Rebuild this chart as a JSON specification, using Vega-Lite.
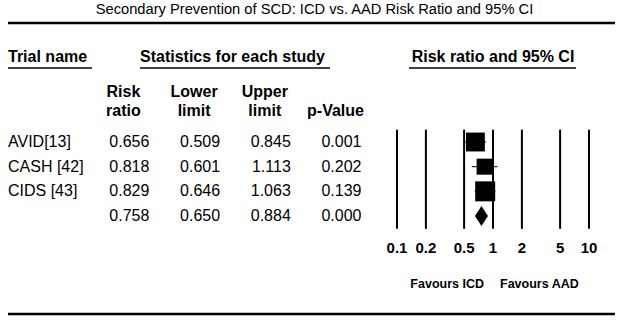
{
  "$schema": "https://vega.github.io/schema/vega-lite/v6.json",
  "width": 607,
  "height": 291,
  "autosize": {"type": "none"},
  "padding": {"left": 8, "top": 23, "right": 12, "bottom": 9},
  "title": {
    "text": "Secondary Prevention of SCD: ICD vs. AAD Risk Ratio and 95% CI",
    "font": "Liberation Sans",
    "fontSize": 14.7,
    "fontWeight": "normal",
    "color": "black",
    "anchor": "middle",
    "baseline": "alphabetic",
    "offset": -7,
    "dx": 3
  },
  "config": {
    "view": {"stroke": null},
    "text": {"font": "Liberation Sans", "color": "black"}
  },
  "datasets": {
    "studies": [
      {"trial": "AVID[13]", "kind": "study", "rr": 0.656, "lower": 0.509, "upper": 0.845, "p": 0.001, "weight": 35},
      {"trial": "CASH [42]", "kind": "study", "rr": 0.818, "lower": 0.601, "upper": 1.113, "p": 0.202, "weight": 25.2},
      {"trial": "CIDS [43]", "kind": "study", "rr": 0.829, "lower": 0.646, "upper": 1.063, "p": 0.139, "weight": 39.3},
      {"trial": "", "kind": "overall", "rr": 0.758, "lower": 0.65, "upper": 0.884, "p": 0.0, "weight": 100}
    ],
    "columns": [
      {"col": "rr", "label": "Risk\nratio"},
      {"col": "lower", "label": "Lower\nlimit"},
      {"col": "upper", "label": "Upper\nlimit"},
      {"col": "p", "label": "\np-Value"}
    ],
    "ticks": [
      {"v": 0.1}, {"v": 0.2}, {"v": 0.5}, {"v": 1}, {"v": 2}, {"v": 5}, {"v": 10}
    ]
  },
  "resolve": {"scale": {"x": "independent"}},
  "layer": [
    {
      "data": {"values": [{}]},
      "mark": {"type": "rule", "strokeWidth": 2.5, "color": "black"},
      "encoding": {"y": {"value": 0}}
    },
    {
      "data": {"values": [{}]},
      "mark": {"type": "rule", "strokeWidth": 2.5, "color": "black"},
      "encoding": {"y": {"value": "height"}}
    },
    {
      "data": {"name": "studies"},
      "transform": [{"window": [{"op": "row_number", "as": "row"}]}],
      "mark": {"type": "text", "align": "left", "baseline": "middle", "fontSize": 16},
      "encoding": {
        "x": {"datum": "name", "type": "nominal", "scale": {"type": "point", "domain": ["name", "gap", "rr", "lower", "upper", "p"], "range": [0, 353.5], "padding": 0}, "axis": null},
        "y": {"field": "row", "type": "quantitative", "scale": {"domain": [-3.824, 7.972], "reverse": true, "nice": false, "zero": false}, "axis": null},
        "text": {"field": "trial", "type": "nominal"}
      }
    },
    {
      "data": {"name": "studies"},
      "transform": [
        {"window": [{"op": "row_number", "as": "row"}]},
        {"fold": ["rr", "lower", "upper", "p"], "as": ["col", "val"]}
      ],
      "mark": {"type": "text", "align": "right", "baseline": "middle", "fontSize": 16},
      "encoding": {
        "x": {"field": "col", "type": "nominal", "scale": {"type": "point", "domain": ["name", "gap", "rr", "lower", "upper", "p"], "range": [0, 353.5], "padding": 0}, "axis": null},
        "y": {"field": "row", "type": "quantitative", "scale": {"domain": [-3.824, 7.972], "reverse": true, "nice": false, "zero": false}, "axis": null},
        "text": {"field": "val", "type": "quantitative", "format": ".3f"}
      }
    },
    {
      "data": {"name": "columns"},
      "mark": {"type": "text", "align": "center", "baseline": "bottom", "fontSize": 16, "fontWeight": "bold", "lineBreak": "\n", "lineHeight": 19, "dx": -26},
      "encoding": {
        "x": {"field": "col", "type": "nominal", "scale": {"type": "point", "domain": ["name", "gap", "rr", "lower", "upper", "p"], "range": [0, 353.5], "padding": 0}, "axis": null},
        "y": {"datum": -0.7, "type": "quantitative", "scale": {"domain": [-3.824, 7.972], "reverse": true, "nice": false, "zero": false}, "axis": null},
        "text": {"field": "label", "type": "nominal"}
      }
    },
    {
      "data": {"values": [{}]},
      "mark": {"type": "text", "align": "left", "baseline": "middle", "fontSize": 16, "fontWeight": "bold"},
      "encoding": {
        "x": {"datum": "name", "type": "nominal", "scale": {"type": "point", "domain": ["name", "gap", "rr", "lower", "upper", "p"], "range": [0, 353.5], "padding": 0}, "axis": null},
        "y": {"datum": -2.446, "type": "quantitative", "scale": {"domain": [-3.824, 7.972], "reverse": true, "nice": false, "zero": false}, "axis": null},
        "text": {"value": "Trial name"}
      }
    },
    {
      "data": {"values": [{}]},
      "mark": {"type": "text", "align": "left", "baseline": "middle", "fontSize": 16, "fontWeight": "bold", "dx": -9.4},
      "encoding": {
        "x": {"datum": "rr", "type": "nominal", "scale": {"type": "point", "domain": ["name", "gap", "rr", "lower", "upper", "p"], "range": [0, 353.5], "padding": 0}, "axis": null},
        "y": {"datum": -2.446, "type": "quantitative", "scale": {"domain": [-3.824, 7.972], "reverse": true, "nice": false, "zero": false}, "axis": null},
        "text": {"value": "Statistics for each study"}
      }
    },
    {
      "data": {"values": [{}]},
      "mark": {"type": "text", "align": "center", "baseline": "middle", "fontSize": 16, "fontWeight": "bold"},
      "encoding": {
        "x": {"datum": 1, "type": "quantitative", "scale": {"type": "log", "domain": [0.1, 10], "range": [389, 581]}, "axis": null},
        "y": {"datum": -2.446, "type": "quantitative", "scale": {"domain": [-3.824, 7.972], "reverse": true, "nice": false, "zero": false}, "axis": null},
        "text": {"value": "Risk ratio and 95% CI"}
      }
    },
    {
      "data": {"values": [{}]},
      "mark": {"type": "rule", "strokeWidth": 1.5, "color": "black", "x2Offset": 13.3},
      "encoding": {
        "x": {"datum": "name", "type": "nominal", "scale": {"type": "point", "domain": ["name", "gap", "rr", "lower", "upper", "p"], "range": [0, 353.5], "padding": 0}, "axis": null},
        "x2": {"datum": "gap"},
        "y": {"datum": -2.0, "type": "quantitative", "scale": {"domain": [-3.824, 7.972], "reverse": true, "nice": false, "zero": false}, "axis": null}
      }
    },
    {
      "data": {"values": [{}]},
      "mark": {"type": "rule", "strokeWidth": 1.5, "color": "black", "xOffset": -9.4, "x2Offset": -31.5},
      "encoding": {
        "x": {"datum": "rr", "type": "nominal", "scale": {"type": "point", "domain": ["name", "gap", "rr", "lower", "upper", "p"], "range": [0, 353.5], "padding": 0}, "axis": null},
        "x2": {"datum": "p"},
        "y": {"datum": -2.0, "type": "quantitative", "scale": {"domain": [-3.824, 7.972], "reverse": true, "nice": false, "zero": false}, "axis": null}
      }
    },
    {
      "data": {"values": [{}]},
      "mark": {"type": "rule", "strokeWidth": 1.5, "color": "black", "xOffset": 12, "x2Offset": -13},
      "encoding": {
        "x": {"datum": 0.1, "type": "quantitative", "scale": {"type": "log", "domain": [0.1, 10], "range": [389, 581]}, "axis": null},
        "x2": {"datum": 10},
        "y": {"datum": -2.0, "type": "quantitative", "scale": {"domain": [-3.824, 7.972], "reverse": true, "nice": false, "zero": false}, "axis": null}
      }
    },
    {
      "data": {"name": "ticks"},
      "mark": {"type": "rule", "strokeWidth": 2, "color": "black"},
      "encoding": {
        "x": {"field": "v", "type": "quantitative", "scale": {"type": "log", "domain": [0.1, 10], "range": [389, 581]}, "axis": null},
        "y": {"datum": 0.5, "type": "quantitative", "scale": {"domain": [-3.824, 7.972], "reverse": true, "nice": false, "zero": false}, "axis": null},
        "y2": {"datum": 4.52}
      }
    },
    {
      "data": {"name": "ticks"},
      "mark": {"type": "text", "align": "center", "baseline": "middle", "fontSize": 15, "fontWeight": "bold"},
      "encoding": {
        "x": {"field": "v", "type": "quantitative", "scale": {"type": "log", "domain": [0.1, 10], "range": [389, 581]}, "axis": null},
        "y": {"datum": 5.297, "type": "quantitative", "scale": {"domain": [-3.824, 7.972], "reverse": true, "nice": false, "zero": false}, "axis": null},
        "text": {"field": "v", "type": "quantitative", "format": "~g"}
      }
    },
    {
      "data": {"name": "studies"},
      "transform": [
        {"window": [{"op": "row_number", "as": "row"}]},
        {"filter": "datum.kind === 'study'"}
      ],
      "mark": {"type": "rule", "strokeWidth": 1, "color": "black"},
      "encoding": {
        "x": {"field": "lower", "type": "quantitative", "scale": {"type": "log", "domain": [0.1, 10], "range": [389, 581]}, "axis": null},
        "x2": {"field": "upper"},
        "y": {"field": "row", "type": "quantitative", "scale": {"domain": [-3.824, 7.972], "reverse": true, "nice": false, "zero": false}, "axis": null}
      }
    },
    {
      "data": {"name": "studies"},
      "transform": [
        {"window": [{"op": "row_number", "as": "row"}]},
        {"filter": "datum.kind === 'study'"}
      ],
      "mark": {"type": "square", "filled": true, "color": "black", "opacity": 1},
      "encoding": {
        "x": {"field": "rr", "type": "quantitative", "scale": {"type": "log", "domain": [0.1, 10], "range": [389, 581]}, "axis": null},
        "y": {"field": "row", "type": "quantitative", "scale": {"domain": [-3.824, 7.972], "reverse": true, "nice": false, "zero": false}, "axis": null},
        "size": {"field": "weight", "type": "quantitative", "scale": {"type": "linear", "domain": [0, 100], "range": [0, 1017]}, "legend": null}
      }
    },
    {
      "data": {"name": "studies"},
      "transform": [
        {"window": [{"op": "row_number", "as": "row"}]},
        {"filter": "datum.kind === 'overall'"}
      ],
      "mark": {"type": "point", "shape": "M-0.65,0L0,-1L0.65,0L0,1Z", "filled": true, "size": 400, "color": "black", "opacity": 1},
      "encoding": {
        "x": {"field": "rr", "type": "quantitative", "scale": {"type": "log", "domain": [0.1, 10], "range": [389, 581]}, "axis": null},
        "y": {"field": "row", "type": "quantitative", "scale": {"domain": [-3.824, 7.972], "reverse": true, "nice": false, "zero": false}, "axis": null}
      }
    },
    {
      "data": {"values": [{}]},
      "mark": {"type": "text", "align": "right", "baseline": "middle", "fontSize": 12.5, "fontWeight": "bold", "dx": -9},
      "encoding": {
        "x": {"datum": 1, "type": "quantitative", "scale": {"type": "log", "domain": [0.1, 10], "range": [389, 581]}, "axis": null},
        "y": {"datum": 6.74, "type": "quantitative", "scale": {"domain": [-3.824, 7.972], "reverse": true, "nice": false, "zero": false}, "axis": null},
        "text": {"value": "Favours ICD"}
      }
    },
    {
      "data": {"values": [{}]},
      "mark": {"type": "text", "align": "left", "baseline": "middle", "fontSize": 12.5, "fontWeight": "bold", "dx": 7},
      "encoding": {
        "x": {"datum": 1, "type": "quantitative", "scale": {"type": "log", "domain": [0.1, 10], "range": [389, 581]}, "axis": null},
        "y": {"datum": 6.74, "type": "quantitative", "scale": {"domain": [-3.824, 7.972], "reverse": true, "nice": false, "zero": false}, "axis": null},
        "text": {"value": "Favours AAD"}
      }
    }
  ]
}
